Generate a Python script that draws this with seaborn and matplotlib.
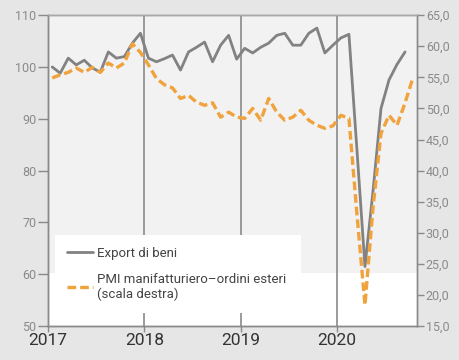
import matplotlib
matplotlib.use("Agg")
import matplotlib.pyplot as plt
import seaborn as sns
import pandas as pd
import numpy as np
from matplotlib.ticker import FuncFormatter

# ---- data (monthly, Jan 2017 onwards) ----
export_values = [
    100.0, 98.8, 101.7, 100.4, 101.3, 99.8, 99.0, 102.9, 101.7, 102.0, 104.6, 106.5,   # 2017
    101.7, 101.0, 101.6, 102.3, 99.4, 102.9, 103.8, 104.8, 101.0, 104.2, 106.1, 101.5,  # 2018
    103.6, 102.7, 103.8, 104.6, 106.1, 106.5, 104.2, 104.2, 106.5, 107.5, 102.7, 104.2,  # 2019
    105.6, 106.3, 84.0, 61.5, 76.0, 92.0, 97.5, 100.5, 102.9,                           # 2020 (Jan-Sep)
]
pmi_values = [
    54.9, 55.4, 55.8, 56.5, 55.8, 56.6, 55.8, 57.3, 56.5, 57.3, 60.4, 59.0,   # 2017
    57.0, 54.8, 53.8, 53.3, 51.6, 52.1, 51.0, 50.5, 50.9, 48.6, 49.4, 48.6,   # 2018
    48.4, 50.0, 48.1, 51.6, 49.4, 48.1, 48.6, 49.7, 48.1, 47.3, 46.8, 47.2,   # 2019
    48.9, 48.4, 33.0, 18.4, 34.0, 46.0, 48.9, 47.3, 50.9, 55.0,               # 2020 (Jan-Oct)
]
start_year = 2017
year_ticks = [2017, 2018, 2019, 2020]
left_ticks = [50, 60, 70, 80, 90, 100, 110]
right_ticks = [15, 20, 25, 30, 35, 40, 45, 50, 55, 60, 65]
label_export = "Export di beni"
label_pmi = "PMI manifatturiero–ordini esteri\n(scala destra)"

def month_pos(i):
    return start_year + (i + 0.5) / 12.0

df_exp = pd.DataFrame({"t": [month_pos(i) for i in range(len(export_values))],
                       "v": export_values})
df_pmi = pd.DataFrame({"t": [month_pos(i) for i in range(len(pmi_values))],
                       "v": pmi_values})

sns.set_style("white")
plt.rcParams["font.family"] = ["Roboto", "DejaVu Sans"]

fig = plt.figure(figsize=(4.59, 3.60), dpi=100, facecolor="#e6e6e6")
ax = fig.add_axes([0.105, 0.094, 0.803, 0.864])
ax.set_facecolor("#f2f2f2")
ax.axhspan(50, 60.2, color="white", zorder=0, lw=0)

grey = "#828282"
orange = "#f0a23c"

sns.lineplot(data=df_exp, x="t", y="v", ax=ax, color=grey, lw=2.0, zorder=3)
ax.set_xlim(2017, 2020.83)
ax.set_ylim(50, 110)
ax.set_yticks(left_ticks)
ax.set_xticks(year_ticks)
ax.set_xticklabels([str(y) for y in year_ticks])
ax.set_xlabel("")
ax.set_ylabel("")
for y in year_ticks[1:]:
    ax.axvline(y, color="#8a8a8a", lw=1.2, zorder=1)

ax2 = ax.twinx()
sns.lineplot(data=df_pmi, x="t", y="v", ax=ax2, color=orange, lw=2.4,
             linestyle=(0, (2.6, 1.2)), zorder=3)
ax2.set_ylim(15, 65)
ax2.set_yticks(right_ticks)
ax2.yaxis.set_major_formatter(FuncFormatter(lambda v, p: f"{v:.1f}".replace(".", ",")))
ax2.set_ylabel("")
ax2.set_xlim(2017, 2020.83)

ax.tick_params(axis="y", direction="out", length=7, width=1, color="#8a8a8a",
               labelsize=9, labelcolor="#8a8a8a", pad=1.5, left=True)
ax.tick_params(axis="x", direction="out", length=4, width=1, color="#8a8a8a",
               labelsize=12.5, labelcolor="#333333", pad=1, bottom=True)
ax2.tick_params(axis="y", direction="out", length=5, width=1, color="#8a8a8a",
                labelsize=9, labelcolor="#8a8a8a", pad=1.5, right=True)

for a in (ax, ax2):
    for s in a.spines.values():
        s.set_color("#8a8a8a")
        s.set_linewidth(1.0)
ax.spines["bottom"].set_color("#707070")
ax.spines["left"].set_color("#707070")
ax2.spines["top"].set_color("#a8a8a8")

h1 = ax.get_lines()[0]
h2 = ax2.get_lines()[0]
leg = ax2.legend([h1, h2], [label_export, label_pmi],
                 loc="lower left", bbox_to_anchor=(0.019, 0.042, 0.667, 0.257),
                 mode="expand", frameon=True, facecolor="white", edgecolor="none",
                 fancybox=False, framealpha=1, fontsize=9.5, handlelength=2.0,
                 handletextpad=0.3, labelspacing=1.0, borderpad=0.9,
                 borderaxespad=0)
for t in leg.get_texts():
    t.set_color("#444444")
leg.set_zorder(5)

fig.savefig("out.png", dpi=100, facecolor=fig.get_facecolor())
